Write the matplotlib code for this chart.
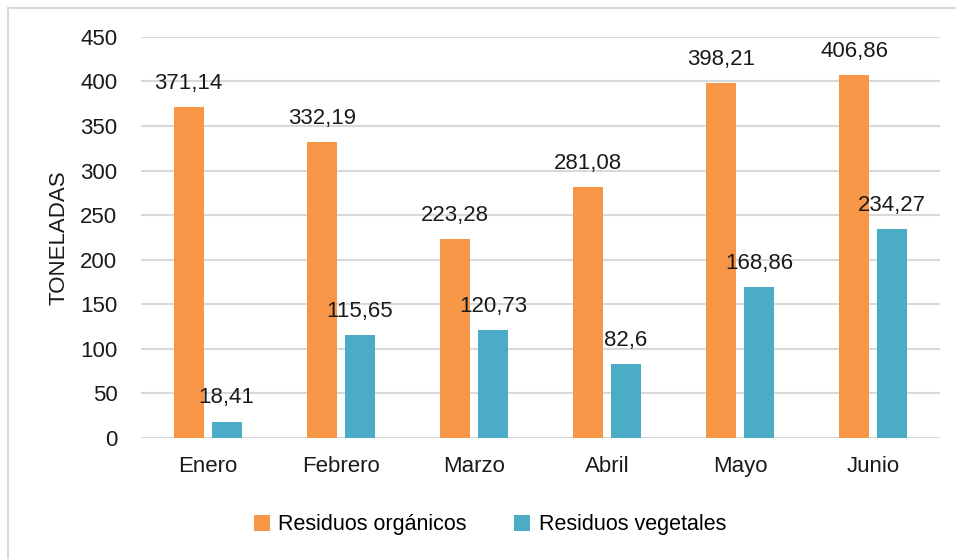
import matplotlib.pyplot as plt
from matplotlib.patches import Rectangle
import numpy as np

meses = ["Enero", "Febrero", "Marzo", "Abril", "Mayo", "Junio"]
organicos = [371.14, 332.19, 223.28, 281.08, 398.21, 406.86]
vegetales = [18.41, 115.65, 120.73, 82.6, 168.86, 234.27]
etiquetas_org = ["371,14", "332,19", "223,28", "281,08", "398,21", "406,86"]
etiquetas_veg = ["18,41", "115,65", "120,73", "82,6", "168,86", "234,27"]

plt.rcParams['font.family'] = ['Liberation Sans', 'DejaVu Sans']

fig = plt.figure(figsize=(9.56, 5.59), dpi=100)
ax = fig.add_axes([0.1475, 0.2165, 0.8355, 0.7175])

# borde gris de la figura (solo arriba e izquierda visibles)
fig.patches.append(Rectangle((8 / 956, -0.1), 1.2, 1 - 8 / 559 + 0.1,
                             transform=fig.transFigure, fill=False,
                             edgecolor='#d9d9d9', linewidth=1.5))

x = np.arange(len(meses))
w = 0.225
off = 0.143
b1 = ax.bar(x - off, organicos, w, color='#f79646', label='Residuos orgánicos', zorder=3)
b2 = ax.bar(x + off, vegetales, w, color='#4bacc6', label='Residuos vegetales', zorder=3)

for rect, t in zip(b1, etiquetas_org):
    ax.text(rect.get_x() + rect.get_width() / 2, rect.get_height() + 15, t,
            ha='center', va='bottom', fontsize=16, color='#1a1a1a')
for rect, t in zip(b2, etiquetas_veg):
    ax.text(rect.get_x() + rect.get_width() / 2, rect.get_height() + 15, t,
            ha='center', va='bottom', fontsize=16, color='#1a1a1a')

ax.set_xlim(-0.5, 5.5)
ax.set_ylim(0, 450)
ax.set_yticks(range(0, 451, 50))
ax.set_xticks(x)
ax.set_xticklabels(meses)
ax.tick_params(axis='both', length=0, labelsize=16, colors='#1a1a1a')
ax.tick_params(axis='x', pad=13)
ax.tick_params(axis='y', pad=17)
ax.grid(axis='y', color='#d9d9d9', linewidth=1.5, zorder=0)
for s in ax.spines.values():
    s.set_visible(False)

ax.set_ylabel("TONELADAS", fontsize=16, color='#1a1a1a', labelpad=8)

fig.legend(loc='center', bbox_to_anchor=(0.5126, 0.061), ncol=2, frameon=False,
           fontsize=15.5, handlelength=0.75, handleheight=0.75, columnspacing=2.2,
           handletextpad=0.4)

fig.savefig('out.png', dpi=100)
